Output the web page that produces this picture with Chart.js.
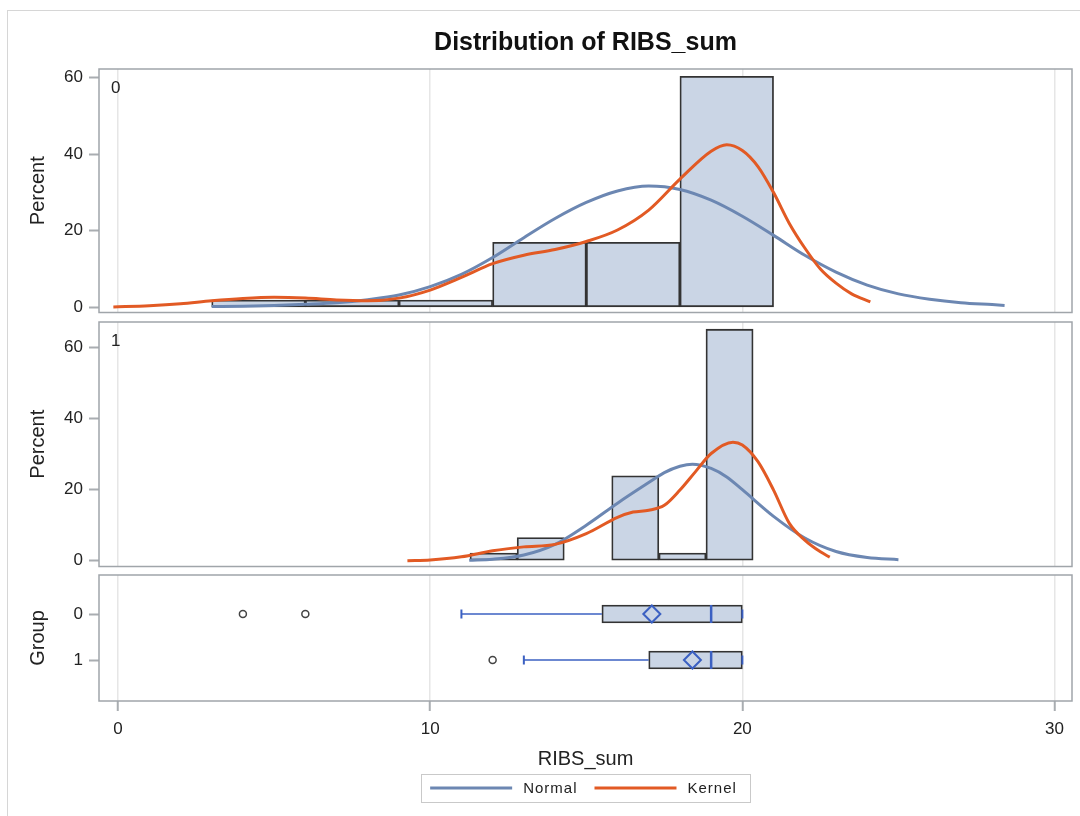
<!DOCTYPE html>
<html>
<head>
<meta charset="utf-8">
<title>Distribution of RIBS_sum</title>
<script src="https://cdn.jsdelivr.net/npm/chart.js@4.4.1/dist/chart.umd.min.js"></script>
<style>
  html, body { margin: 0; padding: 0; background: #fff; }
  #wrap { position: relative; width: 1080px; height: 816px; }
  #wrap canvas { position: absolute; left: 0; top: 0; }
</style>
</head>
<body>
<div id="wrap">
  <canvas id="histGroup0" width="1080" height="816"></canvas>
  <canvas id="histGroup1" width="1080" height="816"></canvas>
  <canvas id="boxPanel" width="1080" height="816"></canvas>
</div>
<script>
// Histogram bins (midpoints) and percent per bin
const bins0 = [4.5, 7.5, 10.5, 13.5, 16.5, 19.5];
const pct0 = [1.89, 1.89, 1.89, 16.98, 16.98, 60.38];
const bins1 = [12.03, 13.54, 15.05, 16.57, 18.08, 19.59];
const pct1 = [2.17, 6.52, 0, 23.91, 2.17, 65.22];

// Fitted curves, [RIBS_sum, percent]
const normal0 = [[3, 0.2], [4, 0.3], [5, 0.5], [6, 0.8], [7, 1.2], [8, 2.0], [9, 3.2], [10, 5.4], [11, 8.6],
  [12, 13.0], [13, 18.2], [14, 23.2], [15, 27.4], [16, 30.4], [17, 31.7], [18, 30.8], [19, 28.0], [20, 23.8],
  [21, 18.8], [22, 13.6], [23, 9.2], [24, 5.8], [25, 3.5], [26, 2.1], [27, 1.2], [28, 0.7], [28.4, 0.5]];
const kernel0 = [[-0.15, 0.1], [1, 0.4], [2, 0.9], [3, 1.7], [4, 2.3], [5, 2.6], [6, 2.4], [7, 1.9], [8, 1.7],
  [9, 2.4], [10, 4.5], [11, 7.8], [12, 11.4], [13, 13.6], [14, 15.1], [15, 17.2], [16, 20.2], [17, 25.4],
  [18, 33.5], [19, 40.8], [19.5, 42.5], [20, 41.0], [20.5, 36.8], [21, 30.0], [21.5, 22.0], [22, 15.5],
  [22.5, 10.0], [23, 6.3], [23.5, 3.5], [24.1, 1.4]];
const normal1 = [[11.25, 0.1], [12, 0.4], [13, 1.6], [14, 4.6], [15, 10.0], [16, 16.2], [17, 22.0], [17.5, 24.8],
  [18, 26.6], [18.4, 27.2], [19, 26.0], [19.5, 23.6], [20, 20.0], [21, 12.5], [22, 6.4], [23, 2.6], [24, 0.9], [25, 0.3]];
const kernel1 = [[9.27, 0.0], [10, 0.2], [11, 1.1], [12, 2.8], [13, 3.9], [14, 4.6], [15, 7.6], [16, 12.2],
  [16.5, 13.7], [17, 14.2], [17.5, 15.6], [18, 19.9], [18.5, 25.1], [19, 30.2], [19.7, 33.4], [20, 32.6],
  [20.5, 27.9], [21, 19.9], [21.5, 10.6], [22, 5.8], [22.5, 2.5], [22.8, 1.0]];

// Box plot summary per group
const groups = [0, 1];
const q1 = [15.5, 17];
const median = [19, 19];
const q3 = [20, 20];
const mean = [17.1, 18.4];
const whiskerLo = [11, 13];
const whiskerHi = [20, 20];
const outliers = [[4, 6], [12]];

// Tick labels
const xTicks = [0, 10, 20, 30];
const pctTicks = [0, 20, 40, 60];
const groupTicks = [0, 1];

// Colours
const FONT = "'Liberation Sans', Arial, sans-serif";
const barFill = '#cad5e5';
const barEdge = '#333333';
const normalColor = '#6c87b2';
const kernelColor = '#e25a24';
const boxBlue = '#3b60c2';
const frameColor = '#a0a5aa';
const gridColor = '#e6e6e6';
const tickColor = '#a9adb1';

Chart.defaults.font.family = FONT;
Chart.defaults.color = '#222';

const pts = arr => arr.map(([x, y]) => ({ x, y }));

// Plot frame + small panel label in top-left corner
const framePlugin = {
  id: 'panelFrame',
  afterDatasetsDraw(chart, args, opts) {
    const { ctx, chartArea: a } = chart;
    ctx.save();
    ctx.strokeStyle = frameColor;
    ctx.lineWidth = 1.5;
    ctx.strokeRect(a.left, a.top, a.right - a.left, a.bottom - a.top);
    if (opts.label) {
      ctx.fillStyle = '#222';
      ctx.font = '17px ' + FONT;
      ctx.textBaseline = 'middle';
      ctx.fillText(opts.label, a.left + 12, a.top + 19);
    }
    ctx.restore();
  }
};

// Light outer border of the whole graph
const outerBorder = {
  id: 'outerBorder',
  beforeDraw(chart) {
    const { ctx } = chart;
    ctx.save();
    ctx.strokeStyle = '#d6d6d6';
    ctx.lineWidth = 1;
    ctx.strokeRect(7.5, 10.5, 1100, 900);
    ctx.restore();
  }
};

// Boxed legend under the x axis title
const legendItems = [
  { text: 'Normal', color: normalColor },
  { text: 'Kernel', color: kernelColor }
];
const sasLegend = {
  id: 'sasLegend',
  afterDraw(chart) {
    const { ctx, chartArea } = chart;
    ctx.save();
    ctx.font = '15px ' + FONT;
    ctx.letterSpacing = '1px';
    const lineLen = 82, gap = 11, itemGap = 17, padL = 9, padR = 13;
    const widths = legendItems.map(it => ctx.measureText(it.text).width);
    const total = padL + padR + widths.reduce((s, w) => s + lineLen + gap + w, 0) + itemGap * (legendItems.length - 1);
    let x = (chartArea.left + chartArea.right) / 2 - total / 2;
    const top = chartArea.bottom + 73, h = 28, midY = top + h / 2;
    ctx.strokeStyle = '#c9c9c9';
    ctx.lineWidth = 1;
    ctx.strokeRect(Math.round(x) + 0.5, top + 0.5, Math.round(total), h);
    x += padL;
    legendItems.forEach((it, i) => {
      ctx.strokeStyle = it.color;
      ctx.lineWidth = 3;
      ctx.beginPath();
      ctx.moveTo(x, midY);
      ctx.lineTo(x + lineLen, midY);
      ctx.stroke();
      x += lineLen + gap;
      ctx.fillStyle = '#222';
      ctx.textBaseline = 'middle';
      ctx.fillText(it.text, x, midY + 1);
      x += widths[i] + itemGap;
    });
    ctx.restore();
  }
};

function panelScales({ yMin, yMax, yTicks, yTitle, reverse = false, showX = false }) {
  return {
    x: {
      type: 'linear', min: -0.61, max: 30.56, offset: false,
      afterBuildTicks: s => { s.ticks = xTicks.map(v => ({ value: v })); },
      afterFit: s => {
        s.height = showX ? 70 : 0;
        s.paddingLeft = 0;
        s.paddingRight = 0;
      },
      grid: { color: gridColor, lineWidth: 1.5, offset: false, drawTicks: showX, tickLength: 10, tickColor: tickColor, tickWidth: 2 },
      border: { display: false },
      ticks: { display: showX, padding: 8, font: { size: 17 } },
      title: { display: showX, text: 'RIBS_sum', font: { size: 20 }, padding: { top: 0, bottom: 0 } }
    },
    y: {
      type: 'linear', min: yMin, max: yMax, reverse, offset: false,
      afterBuildTicks: s => { s.ticks = yTicks.map(v => ({ value: v })); },
      afterFit: s => { s.width = 99; },
      grid: { drawOnChartArea: false, drawTicks: true, tickLength: 10, tickColor: tickColor, tickWidth: 2, offset: false },
      border: { display: false },
      ticks: { padding: 6, font: { size: 17 } },
      title: { display: true, text: yTitle, font: { size: 20 }, padding: { top: 26, bottom: 0 } }
    }
  };
}

function histDatasets(bins, pct, normal, kernel) {
  return [
    { type: 'line', label: 'Kernel', data: pts(kernel), borderColor: kernelColor, borderWidth: 3,
      pointRadius: 0, cubicInterpolationMode: 'monotone', fill: false, order: 1 },
    { type: 'line', label: 'Normal', data: pts(normal), borderColor: normalColor, borderWidth: 3,
      pointRadius: 0, cubicInterpolationMode: 'monotone', fill: false, order: 2 },
    { type: 'bar', label: 'Percent', data: bins.map((x, i) => ({ x, y: pct[i] })),
      backgroundColor: barFill, borderColor: barEdge, borderWidth: 1.8, borderSkipped: false,
      barPercentage: 1, categoryPercentage: 1, order: 3 }
  ];
}

const common = {
  responsive: false,
  animation: false,
  events: [],
  devicePixelRatio: 1
};

// Group 0 histogram (with graph title)
new Chart(document.getElementById('histGroup0'), {
  type: 'scatter',
  data: { datasets: histDatasets(bins0, pct0, normal0, kernel0) },
  options: {
    ...common,
    layout: { autoPadding: false, padding: { left: 0, right: 8, top: 0, bottom: 503.5 } },
    scales: panelScales({ yMin: -1.36, yMax: 62.3, yTicks: pctTicks, yTitle: 'Percent' }),
    plugins: {
      legend: { display: false },
      tooltip: { enabled: false },
      title: {
        display: true, text: 'Distribution of RIBS_sum', fullSize: false, color: '#111',
        font: { size: 25, weight: 'bold' }, lineHeight: 1.2, padding: { top: 28, bottom: 11 }
      },
      panelFrame: { label: '0' }
    }
  },
  plugins: [outerBorder, framePlugin]
});

// Group 1 histogram
new Chart(document.getElementById('histGroup1'), {
  type: 'scatter',
  data: { datasets: histDatasets(bins1, pct1, normal1, kernel1) },
  options: {
    ...common,
    layout: { autoPadding: false, padding: { left: 0, right: 8, top: 322, bottom: 249.5 } },
    scales: panelScales({ yMin: -1.63, yMax: 67.24, yTicks: pctTicks, yTitle: 'Percent' }),
    plugins: {
      legend: { display: false },
      tooltip: { enabled: false },
      panelFrame: { label: '1' }
    }
  },
  plugins: [framePlugin]
});

// Horizontal box plots by group
const boxDatasets = [
  { type: 'scatter', label: 'Mean', data: groups.map((g, i) => ({ x: mean[i], y: g })),
    pointStyle: 'rectRot', pointRadius: 8.5, pointBorderColor: boxBlue, pointBackgroundColor: 'rgba(0,0,0,0)',
    pointBorderWidth: 2, order: 1 },
  { type: 'scatter', label: 'Median', data: groups.map((g, i) => ({ x: median[i], y: g })),
    pointStyle: 'line', pointRotation: 90, pointRadius: 9, pointBorderColor: boxBlue, pointBorderWidth: 2.5, order: 1 },
  { type: 'scatter', label: 'Caps',
    data: groups.flatMap((g, i) => [{ x: whiskerLo[i], y: g }, { x: whiskerHi[i], y: g }]),
    pointStyle: 'line', pointRotation: 90, pointRadius: 4.5, pointBorderColor: boxBlue, pointBorderWidth: 2, order: 1 },
  { type: 'scatter', label: 'Outliers',
    data: groups.flatMap((g, i) => outliers[i].map(v => ({ x: v, y: g }))),
    pointStyle: 'circle', pointRadius: 3.5, pointBorderColor: '#444', pointBackgroundColor: 'rgba(0,0,0,0)',
    pointBorderWidth: 1.5, order: 1 },
  ...groups.map((g, i) => ({
    type: 'line', label: 'Whisker ' + g,
    data: [{ x: whiskerLo[i], y: g }, { x: q1[i], y: g }],
    borderColor: boxBlue, borderWidth: 1.5, pointRadius: 0, fill: false, order: 2
  })),
  { type: 'bar', label: 'Box', indexAxis: 'y',
    data: groups.map((g, i) => ({ x: [q1[i], q3[i]], y: g })),
    backgroundColor: barFill, borderColor: barEdge, borderWidth: 1.8, borderSkipped: false,
    barThickness: 18, order: 3 }
];

new Chart(document.getElementById('boxPanel'), {
  type: 'scatter',
  data: { datasets: boxDatasets },
  options: {
    ...common,
    layout: { autoPadding: false, padding: { left: 0, right: 8, top: 575, bottom: 45 } },
    scales: panelScales({ yMin: -0.848, yMax: 1.891, yTicks: groupTicks, yTitle: 'Group', reverse: true, showX: true }),
    plugins: {
      legend: { display: false },
      tooltip: { enabled: false },
      panelFrame: {}
    }
  },
  plugins: [framePlugin, sasLegend]
});
</script>
</body>
</html>
